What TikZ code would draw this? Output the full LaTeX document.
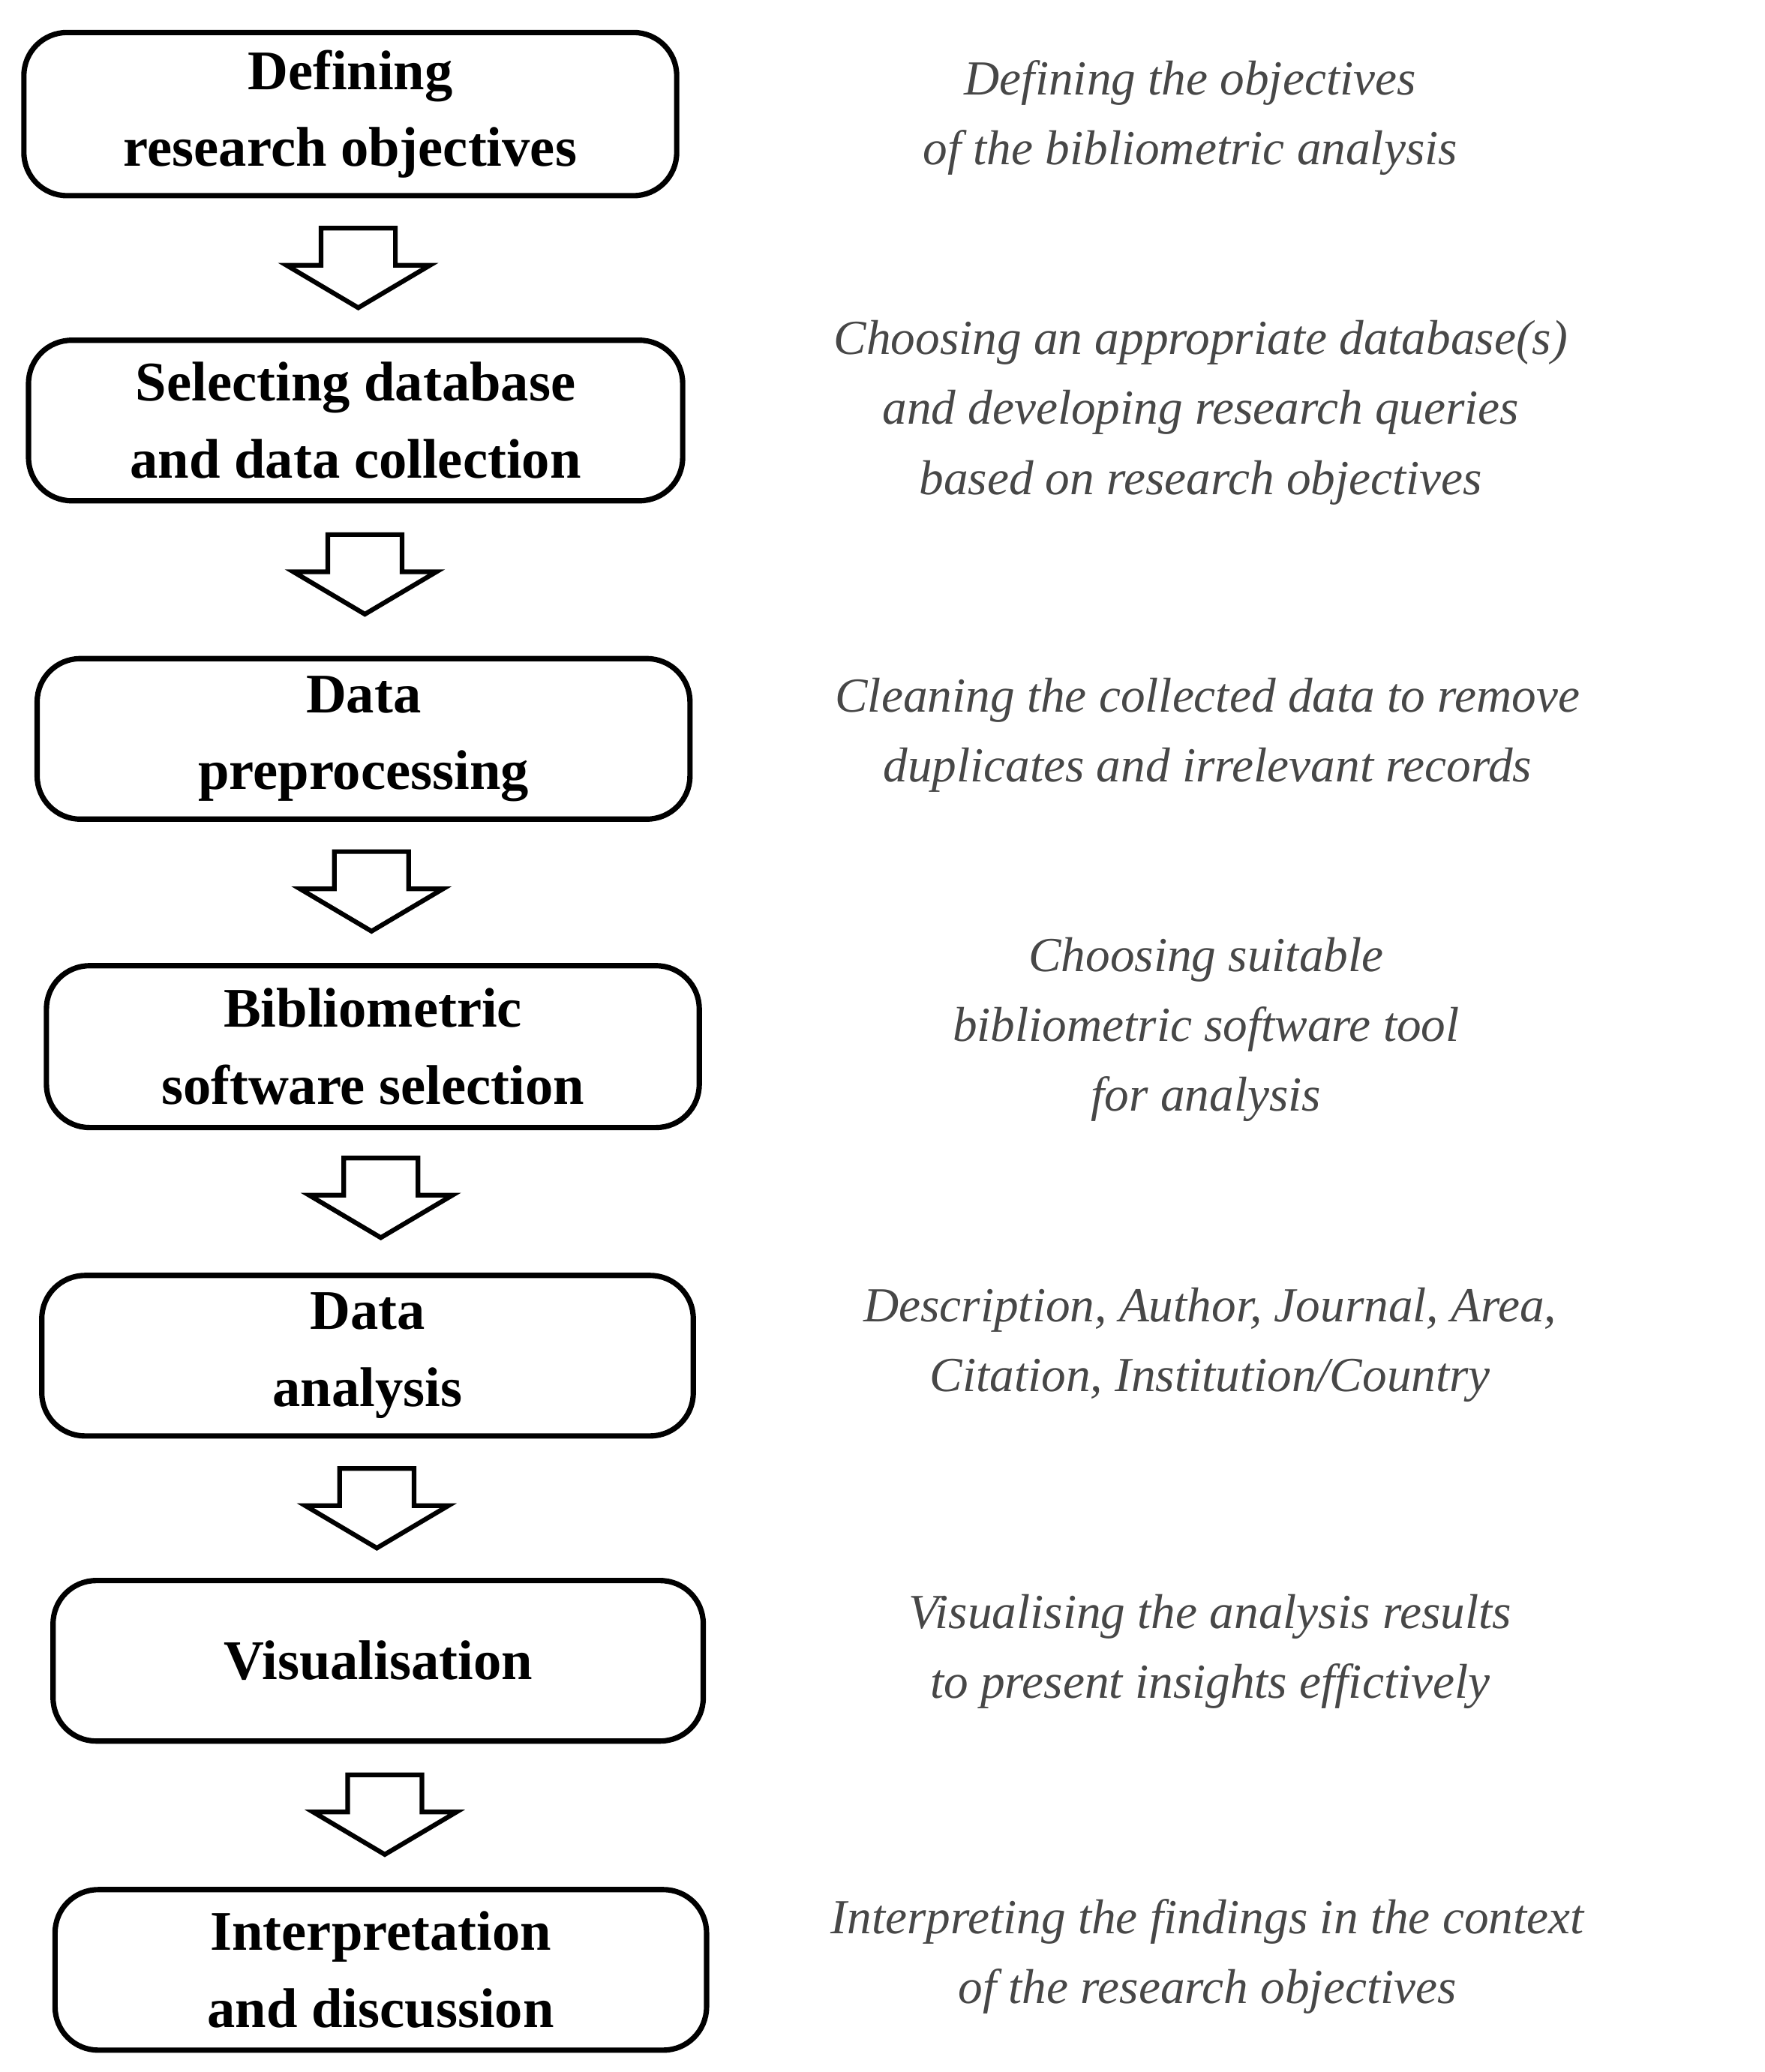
\documentclass[tikz,border=0pt]{standalone}
\usepackage{fontspec}
\setmainfont{Liberation Serif}
\usetikzlibrary{calc}
\begin{document}
\begin{tikzpicture}[x=0.02cm,y=-0.02cm,
 box/.style={draw,line width=2.3pt,rounded corners=0.65cm,align=center,font=\fontsize{24}{33}\selectfont\bfseries},
 desc/.style={align=center,text=black!72,font=\fontsize{21}{30}\selectfont\itshape},
 blk/.style={draw,line width=2pt,fill=white}]
\useasboundingbox (0,0) rectangle (1330,1562);
\newcommand\mkbox[6]{\node[box,minimum width=#3*0.02cm,minimum height=#4*0.02cm] (#5) at (#1,#2) {#6};}
\mkbox{264}{86}{492}{123}{b1}{Defining\\research objectives}
\mkbox{268}{317}{493}{121}{b2}{Selecting database\\and data collection}
\mkbox{274}{557}{492}{121}{b3}{Data\\preprocessing}
\mkbox{281}{789}{492}{122}{b4}{Bibliometric\\software selection}
\mkbox{277}{1022}{491}{121}{b5}{Data\\analysis}
\mkbox{285}{1252}{490}{121}{b6}{Visualisation}
\mkbox{287}{1485}{491}{121}{b7}{Interpretation\\and discussion}
\newcommand\blkarrow[3]{\coordinate (#3) at (#1,#2);
 \draw[blk] ($(#3)+(-28,0)$) -- ++(56,0) -- ++(0,28) -- ++(26,0) -- ($(#3)+(0,60)$) -- ($(#3)+(-54,28)$) -- ++(26,0) -- cycle;}
\blkarrow{270}{172}{a1}
\blkarrow{275}{403}{a2}
\blkarrow{280}{642}{a3}
\blkarrow{287}{873}{a4}
\blkarrow{284}{1107}{a5}
\blkarrow{290}{1338}{a6}
\node[desc] (d1) at (897,89) {Defining the objectives\\of the bibliometric analysis};
\node[desc] (d2) at (905,311) {Choosing an appropriate database(s)\\and developing research queries\\based on research objectives};
\node[desc] (d3) at (910,554) {Cleaning  the collected data to remove\\duplicates and irrelevant records};
\node[desc] (d4) at (909,776) {Choosing suitable\\bibliometric software tool\\for analysis};
\node[desc] (d5) at (912,1014) {Description, Author, Journal, Area,\\Citation, Institution/Country};
\node[desc] (d6) at (912,1245) {Visualising the analysis results\\to present insights effictively};
\node[desc] (d7) at (910,1475) {Interpreting the findings in the context\\of the research objectives};
\end{tikzpicture}
\end{document}
